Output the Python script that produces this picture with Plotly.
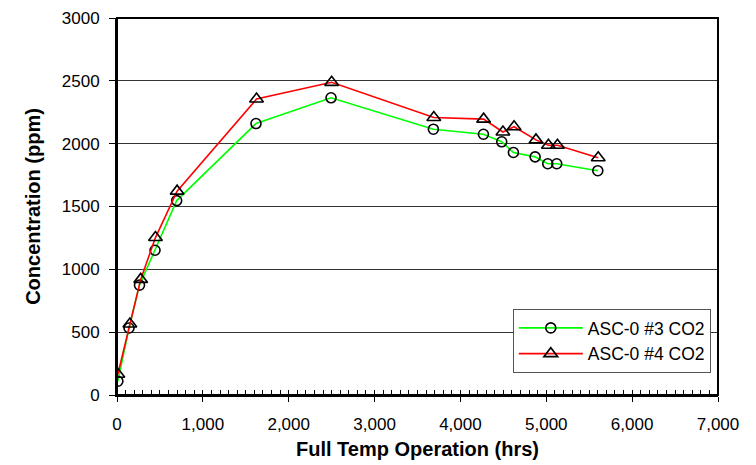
import plotly.graph_objects as go

hours_3 = [10, 140, 262, 443, 695, 1619, 2493, 3685, 4268, 4481, 4617, 4870, 5017, 5122, 5600]
co2_3 = [110, 533, 874, 1152, 1547, 2160, 2365, 2115, 2075, 2015, 1930, 1895, 1840, 1840, 1785]

hours_4 = [10, 150, 276, 448, 700, 1625, 2500, 3690, 4270, 4495, 4625, 4880, 5025, 5130, 5605]
co2_4 = [165, 565, 920, 1253, 1622, 2355, 2488, 2208, 2195, 2093, 2135, 2030, 1987, 1987, 1888]

name_3 = "ASC-0 #3 CO2"
name_4 = "ASC-0 #4 CO2"

x_ticks = [0, 1000, 2000, 3000, 4000, 5000, 6000, 7000]
y_ticks = [0, 500, 1000, 1500, 2000, 2500, 3000]

font_family = "Liberation Sans, Arial, sans-serif"

fig = go.Figure()
fig.add_trace(go.Scatter(
    x=hours_3, y=co2_3, name=name_3, mode="lines+markers",
    line=dict(color="#00FF00", width=1.6),
    marker=dict(symbol="circle-open", size=10, color="black", line=dict(width=1.6)),
))
fig.add_trace(go.Scatter(
    x=hours_4, y=co2_4, name=name_4, mode="lines+markers",
    line=dict(color="#FF0000", width=1.6),
    marker=dict(symbol="triangle-up-open", size=12, color="black", line=dict(width=1.6)),
))

fig.update_layout(
    width=756, height=465,
    margin=dict(l=117, r=38, t=18, b=70),
    paper_bgcolor="white", plot_bgcolor="white",
    font=dict(family=font_family, size=17, color="black"),
    showlegend=True,
    legend=dict(
        x=0.988, xanchor="right", y=0.228, yanchor="top",
        bgcolor="white", bordercolor="#555555", borderwidth=1,
        font=dict(size=17.5), itemwidth=64, tracegroupgap=0,
    ),
    xaxis=dict(
        range=[0, 7000], tickvals=x_ticks, tickformat=",d",
        automargin=False,
        showgrid=False, zeroline=False,
        showline=True, linecolor="black", linewidth=2,
        ticks="outside", ticklen=5, tickwidth=1, tickcolor="black",
        minor=dict(dtick=100, ticks="inside", ticklen=5, tickwidth=1, tickcolor="black", showgrid=False),
        ticklabelstandoff=8,
        tickfont=dict(size=17),
        title=dict(text="<b>Full Temp Operation (hrs)</b>", font=dict(size=20), standoff=9),
    ),
    yaxis=dict(
        range=[0, 3000], tickvals=y_ticks,
        automargin=False,
        showgrid=True, gridcolor="#333333", gridwidth=1,
        zeroline=False,
        showline=True, linecolor="black", linewidth=2,
        ticks="outside", ticklen=6, tickwidth=1, tickcolor="black",
        ticklabelstandoff=6,
        tickfont=dict(size=17),
        title=dict(text="<b>Concentration (ppm)</b>", font=dict(size=20), standoff=16),
    ),
    shapes=[dict(type="rect", xref="paper", yref="paper", x0=0, x1=1, y0=0, y1=1,
                 line=dict(color="black", width=2), layer="above")],
)

fig.write_html("out.html")
